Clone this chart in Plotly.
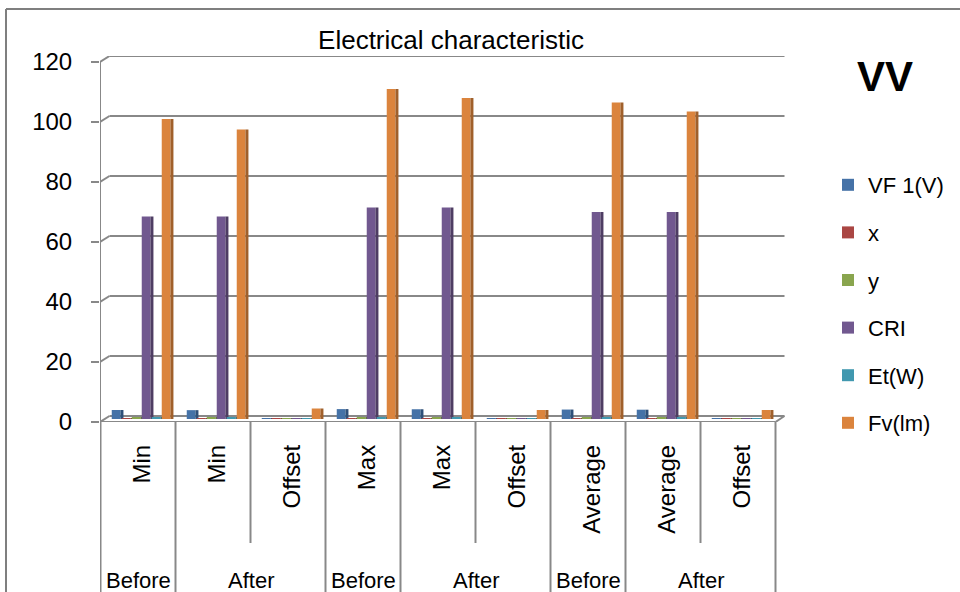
import plotly.graph_objects as go

# ---------------- data ----------------
inner_labels = ["Min", "Min", "Offset", "Max", "Max", "Offset", "Average", "Average", "Offset"]
outer_labels = ["Before", "After", "Before", "After", "Before", "After"]
outer_spans = [1, 2, 1, 2, 1, 2]

series_names = ["VF 1(V)", "x", "y", "CRI", "Et(W)", "Fv(lm)"]
vf1 = [3.0, 2.95, 0.05, 3.3, 3.25, 0.05, 3.15, 3.1, 0.05]
x_vals = [0.33, 0.33, 0.003, 0.33, 0.33, 0.003, 0.33, 0.33, 0.003]
y_vals = [0.36, 0.36, 0.003, 0.36, 0.36, 0.003, 0.36, 0.36, 0.003]
cri = [67.5, 67.5, 0.1, 70.5, 70.5, 0.1, 69.0, 69.0, 0.1]
et_w = [0.6, 0.6, 0.01, 0.6, 0.6, 0.01, 0.6, 0.6, 0.01]
fv_lm = [100.0, 96.5, 3.5, 110.0, 107.0, 3.0, 105.5, 102.5, 3.0]

y_ticks = [0, 20, 40, 60, 80, 100, 120]

# ---------------- style ----------------
front_colors = ["#4572A7", "#AA4643", "#89A54E", "#71588F", "#4198AF", "#DB843D"]
side_colors = ["#2F5079", "#7A302E", "#5F7535", "#4E3D63", "#2C6A7B", "#A0602B"]
FONT = "Liberation Sans"
GRID = "#888888"
W, H = 960, 592

values = [vf1, x_vals, y_vals, cri, et_w, fv_lm]
xpos = list(range(len(inner_labels)))

fig = go.Figure()
face_w = 0.116
side_w = 0.04
step = 0.1333
start = -0.41
for i, (name, vals) in enumerate(zip(series_names, values)):
    off = start + i * step
    fig.add_trace(go.Bar(
        x=xpos, y=vals, name=name, legendgroup=name,
        offset=off, width=face_w,
        marker=dict(color=front_colors[i], line=dict(width=0)),
    ))
    fig.add_trace(go.Bar(
        x=xpos, y=vals, name=name, legendgroup=name, showlegend=False,
        offset=off + face_w, width=side_w,
        marker=dict(color=side_colors[i], line=dict(width=0)),
    ))

# geometry (3D depth offsets expressed in axis units)
depth_x = 4.5 / 75.0   # half depth in category units
depth_y = 1.0          # half depth in value units
x_left = -0.5667
x_right = 8.5667
n = len(inner_labels)

shapes = []
line_style = dict(color=GRID, width=2)
# back-wall gridlines and left connectors
for v in y_ticks:
    shapes.append(dict(type="line", xref="x", yref="y",
                       x0=-0.5 + depth_x, x1=n - 0.5 + depth_x,
                       y0=v + depth_y, y1=v + depth_y, line=line_style, layer="below"))
    shapes.append(dict(type="line", xref="x", yref="y",
                       x0=x_left, x1=-0.5 + depth_x,
                       y0=v - depth_y, y1=v + depth_y, line=line_style, layer="below"))
# front y axis line
shapes.append(dict(type="line", xref="x", yref="y", x0=x_left, x1=x_left,
                   y0=-depth_y, y1=y_ticks[-1] - depth_y, line=line_style))
# front floor edge and right diagonal
shapes.append(dict(type="line", xref="x", yref="y", x0=-0.5 - depth_x, x1=n - 0.5 - depth_x,
                   y0=-depth_y, y1=-depth_y, line=line_style))
shapes.append(dict(type="line", xref="x", yref="y", x0=n - 0.5 - depth_x, x1=n - 0.5 + depth_x,
                   y0=-depth_y, y1=depth_y, line=line_style))

# category dividers
axis_paper = 1 - 422 / H
short_paper = 1 - 543 / H
group_bounds = [0]
for s in outer_spans:
    group_bounds.append(group_bounds[-1] + s)
for k in range(n + 1):
    full = k in group_bounds
    shapes.append(dict(type="line", xref="x", yref="paper",
                       x0=k - 0.5 - depth_x, x1=k - 0.5 - depth_x,
                       y0=axis_paper, y1=0 if full else short_paper, line=line_style))

# outer frame of the screenshot
shapes.append(dict(type="line", xref="paper", yref="paper", x0=6 / W, x1=1, y0=1 - 9 / H, y1=1 - 9 / H,
                   line=dict(color="#7F7F7F", width=2)))
shapes.append(dict(type="line", xref="paper", yref="paper", x0=6 / W, x1=6 / W, y0=0, y1=1 - 9 / H,
                   line=dict(color="#7F7F7F", width=2)))

annotations = []
for lab, a, b in zip(outer_labels, group_bounds[:-1], group_bounds[1:]):
    annotations.append(dict(text=lab, xref="x", yref="paper", x=(a + b - 1) / 2 - depth_x,
                            y=1 - 566 / H, xanchor="center", yanchor="top", showarrow=False,
                            font=dict(family=FONT, size=22, color="black")))
annotations.append(dict(text="<b>VV</b>", xref="paper", yref="paper", x=885 / W, y=1 - 76 / H,
                        xanchor="center", yanchor="middle", showarrow=False,
                        font=dict(family=FONT, size=42, color="black")))

fig.update_layout(
    width=W, height=H,
    margin=dict(l=0, r=0, t=0, b=0, pad=0),
    paper_bgcolor="white", plot_bgcolor="white",
    barmode="overlay",
    font=dict(family=FONT, color="black"),
    title=dict(text="Electrical characteristic", x=451 / W, y=1 - 40 / H,
               xanchor="center", yanchor="middle",
               font=dict(family=FONT, size=26, color="black")),
    xaxis=dict(domain=[100 / W, 785 / W], range=[x_left, x_right], automargin=False,
               tickvals=xpos, ticktext=inner_labels, tickangle=-90,
               ticks="", showgrid=False, zeroline=False, showline=False,
               ticklabelstandoff=17,
               tickfont=dict(family=FONT, size=24, color="black")),
    yaxis=dict(domain=[1 - 422 / H, 1 - 56 / H], range=[-1, 121], automargin=False,
               tickvals=[v - depth_y for v in y_ticks], ticktext=[str(v) for v in y_ticks],
               ticks="outside", ticklen=8, tickwidth=2, tickcolor=GRID,
               ticklabelstandoff=14,
               showgrid=False, zeroline=False, showline=False,
               tickfont=dict(family=FONT, size=24, color="black")),
    legend=dict(x=828 / W, y=1 - 164 / H, xanchor="left", yanchor="top",
                font=dict(family=FONT, size=22, color="black"),
                tracegroupgap=16, bgcolor="rgba(0,0,0,0)"),
    shapes=shapes,
    annotations=annotations,
)

fig.write_html(
    "out.html",
    config={"displayModeBar": False},
    post_script="document.body.style.margin='0';document.body.style.overflow='hidden';",
)
